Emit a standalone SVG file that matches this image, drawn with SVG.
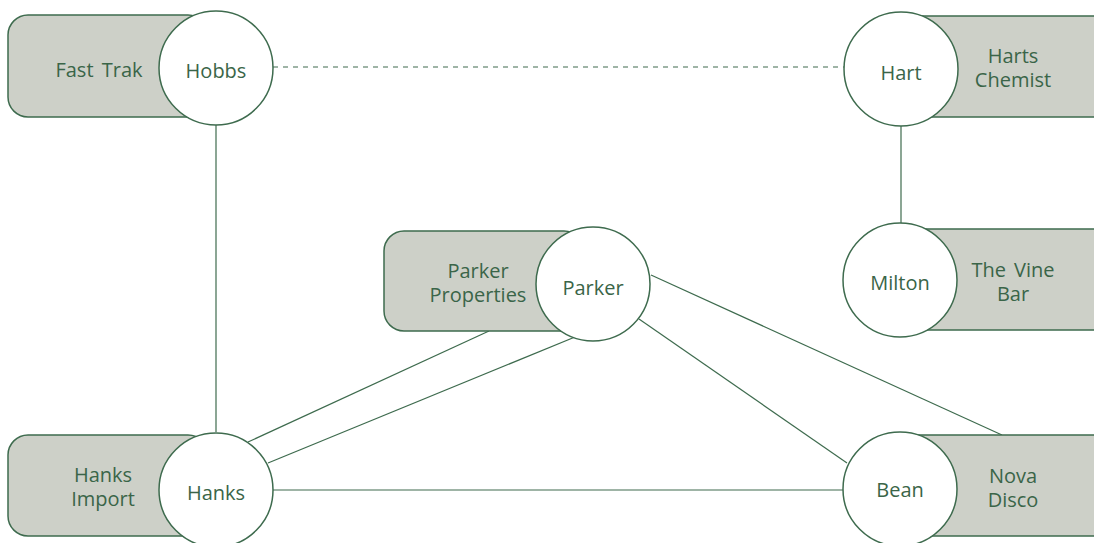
<svg xmlns="http://www.w3.org/2000/svg" width="1094" height="543" viewBox="0 0 1094 543">
<style>
.box{fill:#cdd0c8;stroke:#3e6b4e;stroke-width:1.5}
.circ{fill:#ffffff;stroke:#3e6b4e;stroke-width:1.5}
.edge{stroke:#3e6b4e;stroke-width:1.2;fill:none}
.dash{stroke-dasharray:5 5}
text{font-family:"Open Sans","Noto Sans",sans-serif;font-size:20px;fill:#3a6548;text-anchor:middle;word-spacing:3px}
</style>
<rect width="1094" height="543" fill="#ffffff"/>
<g id="connectors">
<line class="edge dash" x1="273" y1="67" x2="844" y2="67"/>
<line class="edge" x1="216" y1="125" x2="216" y2="432"/>
<line class="edge" x1="901" y1="126" x2="901" y2="223"/>
<line class="edge" x1="489" y1="331" x2="248" y2="442"/>
<line class="edge" x1="575" y1="337" x2="268" y2="463"/>
<line class="edge" x1="639" y1="319" x2="847" y2="463"/>
<line class="edge" x1="651" y1="275" x2="1002" y2="435"/>
<line class="edge" x1="273" y1="490" x2="843" y2="490"/>
</g>
<g id="node-hobbs">
<rect class="box" x="8" y="15" width="200" height="102" rx="20"/>
<text x="99" y="77">Fast Trak</text>
<circle class="circ" cx="216" cy="68" r="57"/>
<text x="216" y="78">Hobbs</text>
</g>
<g id="node-hart">
<rect class="box" x="890" y="16" width="230" height="101" rx="20"/>
<text x="1013" y="63">Harts</text>
<text x="1013" y="87">Chemist</text>
<circle class="circ" cx="901" cy="69" r="57"/>
<text x="901" y="80">Hart</text>
</g>
<g id="node-milton">
<rect class="box" x="890" y="229" width="230" height="101" rx="20"/>
<text x="1013" y="277">The Vine</text>
<text x="1013" y="301">Bar</text>
<circle class="circ" cx="900" cy="280" r="57"/>
<text x="900" y="290">Milton</text>
</g>
<g id="node-parker">
<rect class="box" x="384" y="231" width="200" height="100" rx="20"/>
<text x="478" y="278">Parker</text>
<text x="478" y="302">Properties</text>
<circle class="circ" cx="593" cy="284" r="57"/>
<text x="593" y="295">Parker</text>
</g>
<g id="node-hanks">
<rect class="box" x="8" y="435" width="200" height="101" rx="20"/>
<text x="103" y="482">Hanks</text>
<text x="103" y="506">Import</text>
<circle class="circ" cx="216" cy="490" r="57"/>
<text x="216" y="500">Hanks</text>
</g>
<g id="node-bean">
<rect class="box" x="890" y="435" width="230" height="101" rx="20"/>
<text x="1013" y="483">Nova</text>
<text x="1013" y="507">Disco</text>
<circle class="circ" cx="900" cy="489" r="57"/>
<text x="900" y="497">Bean</text>
</g>
</svg>
